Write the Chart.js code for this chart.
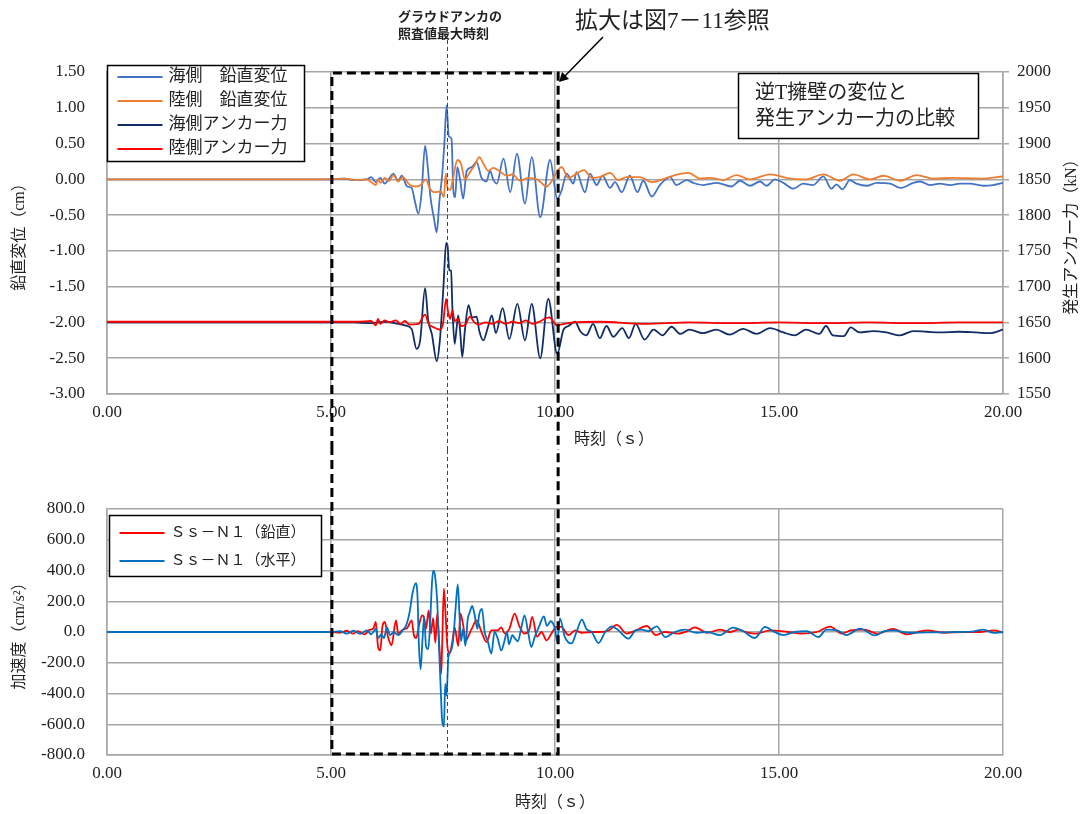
<!DOCTYPE html>
<html lang="ja">
<head>
<meta charset="utf-8">
<title>逆T擁壁の変位と発生アンカー力の比較</title>
<script src="https://cdn.jsdelivr.net/npm/chart.js@4.4.1/dist/chart.umd.min.js"></script>
<style>
html, body { margin: 0; padding: 0; background: #fff; }
#wrap { position: relative; width: 1086px; height: 814px; }
#topChart { position: absolute; left: 0; top: 0; }
#bottomChart { position: absolute; left: 0; top: 450px; }
</style>
</head>
<body>
<div id="wrap">
<canvas id="topChart" width="1086" height="450"></canvas>
<canvas id="bottomChart" width="1086" height="364"></canvas>
</div>
<script>

// =========================
// DATA
// =========================

// 海側 鉛直変位 (cm)
const seaDispTime = [0, 5.0, 5.3, 5.5, 5.8, 5.9, 6.0, 6.1, 6.2, 6.3, 6.39, 6.5, 6.58, 6.7, 6.8, 6.87, 6.95, 7.02, 7.1, 7.17, 7.22, 7.3, 7.36, 7.42, 7.48, 7.53, 7.58, 7.63, 7.69, 7.73, 7.77, 7.82, 7.88, 7.95, 8.03, 8.14, 8.25, 8.36, 8.47, 8.55, 8.62, 8.7, 8.85, 9.0, 9.15, 9.33, 9.48, 9.67, 9.89, 10.05, 10.15, 10.26, 10.41, 10.48, 10.67, 10.78, 10.93, 11.06, 11.23, 11.34, 11.49, 11.67, 11.84, 11.97, 12.16, 12.34, 12.57, 12.71, 12.94, 13.09, 13.31, 13.61, 13.94, 14.13, 14.35, 14.58, 14.72, 14.91, 15.1, 15.32, 15.54, 15.76, 15.99, 16.17, 16.28, 16.42, 16.58, 16.73, 16.96, 17.18, 17.48, 17.71, 18.0, 18.15, 18.37, 18.59, 18.82, 19.04, 19.26, 19.56, 19.78, 20.0];
const seaDisp = [0, 0, 0.01, -0.01, 0.0, 0.03, -0.04, 0.02, -0.06, 0.01, 0.08, -0.02, 0.05, -0.1, -0.12, -0.3, -0.48, -0.2, 0.47, 0.1, -0.25, -0.55, -0.74, -0.3, 0.05, 0.5, 1.03, 0.6, 0.57, -0.15, -0.25, 0.17, 0.0, -0.27, 0.12, 0.17, 0.24, 0.02, -0.03, 0.12, 0.0, -0.06, 0.29, -0.18, 0.36, -0.34, 0.31, -0.53, 0.27, -0.27, -0.15, 0.08, -0.06, 0.1, -0.18, 0.08, -0.08, 0.05, -0.12, -0.04, -0.18, 0.05, -0.18, -0.02, -0.24, -0.08, 0.03, -0.08, -0.01, -0.05, -0.08, -0.05, -0.1, -0.02, -0.09, -0.03, -0.09, 0.0, -0.05, -0.13, -0.06, -0.08, 0.04, -0.13, -0.07, -0.14, -0.01, -0.06, -0.09, -0.05, -0.06, -0.12, -0.05, -0.03, -0.08, -0.06, -0.08, -0.06, -0.06, -0.09, -0.08, -0.05];

// 陸側 鉛直変位 (cm)
const landDispTime = [0, 5.0, 5.3, 5.6, 5.8, 5.9, 6.0, 6.05, 6.1, 6.2, 6.3, 6.39, 6.5, 6.6, 6.76, 6.9, 7.0, 7.12, 7.2, 7.32, 7.45, 7.52, 7.56, 7.6, 7.66, 7.72, 7.82, 7.9, 7.99, 8.1, 8.21, 8.31, 8.4, 8.51, 8.62, 8.75, 8.92, 9.05, 9.22, 9.4, 9.6, 9.81, 9.95, 10.08, 10.15, 10.3, 10.48, 10.65, 10.82, 11.0, 11.23, 11.41, 11.6, 11.9, 12.16, 12.4, 12.68, 12.98, 13.24, 13.46, 13.76, 14.05, 14.35, 14.8, 15.25, 15.6, 15.99, 16.36, 16.66, 17.03, 17.33, 17.71, 18.07, 18.44, 18.9, 19.5, 20.0];
const landDisp = [0, 0, 0.01, -0.01, 0, -0.04, -0.08, 0.0, -0.05, 0.02, -0.02, 0.06, -0.03, 0.03, -0.08, -0.1, -0.08, 0.0, -0.12, -0.18, -0.17, -0.25, 0.08, -0.12, -0.15, 0.0, 0.27, 0.22, 0.0, 0.1, 0.2, 0.31, 0.22, 0.12, 0.16, 0.12, 0.05, 0.07, -0.02, 0.02, 0.0, -0.1, 0.0, 0.14, 0.17, 0.02, 0.08, 0.13, 0.02, 0.03, 0.09, -0.01, 0.03, 0.03, -0.04, 0.0, 0.06, 0.09, 0.01, 0.02, -0.01, 0.06, 0.0, 0.07, 0.01, 0.0, 0.07, -0.02, 0.07, 0.0, 0.05, -0.02, 0.06, 0.01, 0.02, 0.01, 0.04];

// 海側アンカー力 (kN)
const seaForceTime = [0, 5.0, 5.5, 5.9, 6.2, 6.5, 6.65, 6.8, 6.91, 6.99, 7.1, 7.17, 7.25, 7.36, 7.43, 7.51, 7.57, 7.6, 7.64, 7.68, 7.71, 7.76, 7.8, 7.84, 7.88, 7.93, 7.99, 8.07, 8.15, 8.25, 8.31, 8.4, 8.51, 8.59, 8.68, 8.83, 8.98, 9.16, 9.33, 9.48, 9.67, 9.85, 10.05, 10.19, 10.3, 10.45, 10.56, 10.7, 10.85, 11.0, 11.15, 11.3, 11.5, 11.65, 11.8, 12.0, 12.2, 12.4, 12.6, 12.8, 13.0, 13.3, 13.6, 13.9, 14.2, 14.5, 14.8, 15.1, 15.35, 15.6, 15.9, 16.05, 16.2, 16.45, 16.6, 16.8, 17.1, 17.4, 17.7, 18.0, 18.3, 18.6, 19.0, 19.4, 19.7, 20.0];
const seaForce = [1650, 1650, 1650, 1649, 1651, 1648, 1646, 1641, 1613, 1625, 1698, 1653, 1634, 1596, 1625, 1700, 1761, 1758, 1723, 1722, 1670, 1620, 1640, 1660, 1640, 1602, 1640, 1674, 1657, 1658, 1638, 1625, 1645, 1660, 1635, 1670, 1627, 1676, 1625, 1676, 1600, 1683, 1606, 1640, 1645, 1651, 1638, 1632, 1648, 1628, 1645, 1630, 1642, 1628, 1648, 1626, 1640, 1632, 1644, 1634, 1640, 1635, 1640, 1633, 1641, 1634, 1642, 1636, 1632, 1640, 1634, 1645, 1632, 1631, 1643, 1636, 1638, 1636, 1632, 1638, 1637, 1636, 1637, 1636, 1635, 1640];

// 陸側アンカー力 (kN)
const landForceTime = [0, 5.0, 5.6, 5.9, 6.0, 6.05, 6.1, 6.2, 6.3, 6.45, 6.55, 6.65, 6.75, 6.95, 7.1, 7.18, 7.3, 7.43, 7.5, 7.57, 7.61, 7.66, 7.71, 7.76, 7.84, 7.9, 8.0, 8.1, 8.2, 8.3, 8.45, 8.6, 8.75, 8.9, 9.05, 9.2, 9.35, 9.5, 9.65, 9.87, 10.05, 10.2, 10.4, 11.0, 12.0, 13.0, 14.0, 15.0, 16.0, 17.0, 18.0, 19.0, 20.0];
const landForce = [1651, 1651, 1651, 1652, 1646, 1655, 1648, 1653, 1650, 1653, 1648, 1652, 1647, 1648, 1661, 1648, 1643, 1640, 1648, 1683, 1666, 1655, 1667, 1652, 1655, 1645, 1647, 1658, 1650, 1647, 1650, 1648, 1652, 1648, 1651, 1649, 1653, 1648, 1651, 1657, 1646, 1648, 1650, 1651, 1648, 1650, 1649, 1650, 1649, 1650, 1649, 1650, 1650];

// Ss-N1 鉛直 (cm/s2)
const accVTime = [0, 5.0, 5.2, 5.35, 5.5, 5.6, 5.75, 5.85, 5.95, 6.0, 6.05, 6.1, 6.15, 6.2, 6.27, 6.35, 6.45, 6.5, 6.6, 6.7, 6.8, 6.85, 6.9, 6.97, 7.03, 7.08, 7.12, 7.18, 7.23, 7.28, 7.33, 7.37, 7.42, 7.46, 7.48, 7.52, 7.56, 7.6, 7.65, 7.71, 7.76, 7.84, 7.89, 7.95, 8.01, 8.06, 8.14, 8.25, 8.36, 8.47, 8.58, 8.72, 8.8, 8.88, 8.98, 9.1, 9.2, 9.31, 9.42, 9.49, 9.6, 9.7, 9.81, 9.92, 10.03, 10.14, 10.3, 10.45, 10.6, 10.83, 11.0, 11.2, 11.38, 11.6, 11.8, 12.05, 12.25, 12.45, 12.75, 12.95, 13.12, 13.4, 13.68, 13.9, 14.1, 14.3, 14.5, 14.8, 15.2, 15.5, 15.84, 16.14, 16.4, 16.6, 16.9, 17.2, 17.55, 17.85, 18.3, 18.7, 19.1, 19.5, 19.8, 20.0];
const accV = [0, 0, -5, 8, -10, 5, -15, 12, 25, 65, -98, -120, 40, 65, -30, -87, 76, -10, 15, 25, 76, -20, -40, 50, 108, 90, 20, 141, -10, 90, -70, 120, -100, -270, -100, 282, 100, -100, -140, -60, 30, -90, 120, 45, -60, -30, 20, 76, 0, -65, 10, 10, 30, -10, 20, 120, 40, -10, 10, 98, -30, 0, -54, -10, 33, 33, -20, 10, -5, 0, 0, 10, 46, -10, 10, 39, -20, 0, -10, 5, 30, -5, 15, 0, 15, -4, -10, 10, 0, -10, 0, 35, -10, 10, 15, -10, 20, -15, 10, -5, 0, 0, 10, -4];

// Ss-N1 水平 (cm/s2)
const accHTime = [0, 5.0, 5.2, 5.35, 5.5, 5.65, 5.8, 5.9, 6.0, 6.05, 6.12, 6.18, 6.25, 6.32, 6.4, 6.5, 6.6, 6.68, 6.75, 6.82, 6.89, 6.93, 6.96, 7.0, 7.04, 7.08, 7.12, 7.17, 7.21, 7.25, 7.28, 7.32, 7.37, 7.41, 7.45, 7.48, 7.52, 7.55, 7.58, 7.62, 7.68, 7.73, 7.78, 7.83, 7.87, 7.9, 7.95, 8.0, 8.05, 8.1, 8.15, 8.2, 8.27, 8.3, 8.37, 8.43, 8.5, 8.58, 8.65, 8.72, 8.8, 8.87, 8.93, 8.97, 9.05, 9.1, 9.17, 9.25, 9.32, 9.4, 9.47, 9.55, 9.65, 9.75, 9.82, 9.9, 10.0, 10.05, 10.11, 10.22, 10.37, 10.48, 10.6, 10.7, 10.82, 10.97, 11.12, 11.27, 11.42, 11.64, 11.8, 11.94, 12.08, 12.27, 12.46, 12.68, 12.9, 13.16, 13.4, 13.68, 13.98, 14.2, 14.46, 14.69, 14.9, 15.1, 15.35, 15.62, 15.88, 16.06, 16.3, 16.51, 16.81, 17.14, 17.35, 17.55, 17.9, 18.3, 18.7, 19.0, 19.3, 19.56, 19.8, 20.0];
const accH = [0, 0, 5, -10, 8, -12, 10, -15, 20, -40, -15, -40, 30, -20, 0, -20, 10, 45, 122, 252, 317, 240, -70, -243, -60, 98, -90, -111, 40, 300, 399, 370, 200, -90, -377, -572, -616, -337, -413, -163, -120, -40, 150, 310, 100, -60, 20, -90, 80, 130, 170, 120, 20, 100, 150, 0, -60, -140, 0, -40, -120, -60, 0, -80, -20, -40, -60, 30, 108, 0, -98, -30, 40, 102, 40, 70, 20, -65, 89, -33, -74, 0, 80, 20, 0, -72, 0, 37, 10, -43, 10, 15, 5, 37, -33, 0, 15, -5, 0, -20, 28, 5, -39, 33, 0, -20, 0, 5, -33, 15, 10, -20, 22, -22, 5, 10, -5, -3, -2, 0, 2, 15, -6, 0];

// zoom frame and peak time (s)
const frameStart = 5.02;
const frameEnd = 10.07;
const peakTime = 7.59;

// =========================
// STYLE
// =========================

const SERIF = "'Liberation Serif', 'Noto Sans CJK JP', serif";
const GOTHIC = "'Noto Sans CJK JP', sans-serif";
const GRID = "#a6a6a6";
const TEXT = "#222";
const TICK_SIZE = 17;

function pts(ts, vs) {
    return ts.map((t, i) => ({ x: t, y: vs[i] }));
}

function line(label, ts, vs, color, axis, order) {
    return {
        label: label,
        data: pts(ts, vs),
        borderColor: color,
        backgroundColor: color,
        borderWidth: 1.8,
        pointRadius: 0,
        cubicInterpolationMode: "monotone",
        yAxisID: axis,
        order: order
    };
}

function drawLegend(chart, box, rowH, first, fontSize) {
    const ctx = chart.ctx;
    ctx.save();
    ctx.setLineDash([]);
    ctx.fillStyle = "#fff";
    ctx.fillRect(box.x, box.y, box.w, box.h);
    ctx.strokeStyle = "#000";
    ctx.lineWidth = 1.5;
    ctx.strokeRect(box.x, box.y, box.w, box.h);
    ctx.font = fontSize + "px " + SERIF;
    ctx.textBaseline = "middle";
    chart.data.datasets.forEach((ds, i) => {
        const y = box.y + first + rowH * i;
        ctx.strokeStyle = ds.borderColor;
        ctx.lineWidth = 2;
        ctx.beginPath();
        ctx.moveTo(box.x + 10, y);
        ctx.lineTo(box.x + 55, y);
        ctx.stroke();
        ctx.fillStyle = TEXT;
        ctx.fillText(ds.label, box.x + 61, y);
    });
    ctx.restore();
}

function xAxis(height, showTitle) {
    return {
        type: "linear",
        min: 0,
        max: 20,
        grid: { color: GRID, lineWidth: 1.5, drawTicks: false },
        border: { color: GRID, width: 1.5 },
        ticks: {
            stepSize: 5,
            padding: 8,
            color: TEXT,
            font: { family: SERIF, size: TICK_SIZE },
            maxRotation: 0,
            callback: v => v.toFixed(2)
        },
        title: {
            display: showTitle,
            text: "時刻（ｓ）",
            color: TEXT,
            font: { family: SERIF, size: 16 },
            padding: { top: 2, bottom: 2 }
        },
        afterFit: s => { s.height = height; }
    };
}

// =========================
// TOP CHART
// =========================

const topOverlay = {
    id: "topOverlay",
    afterDraw(chart) {
        const ctx = chart.ctx;
        const x = chart.scales.x;
        const area = chart.chartArea;
        const xl = x.getPixelForValue(frameStart);
        const xr = x.getPixelForValue(frameEnd);
        const xp = Math.round(x.getPixelForValue(peakTime)) + 0.5;

        ctx.save();

        // peak time line
        ctx.strokeStyle = "#444";
        ctx.lineWidth = 1;
        ctx.setLineDash([4, 3]);
        ctx.beginPath();
        ctx.moveTo(xp, 40);
        ctx.lineTo(xp, chart.height);
        ctx.stroke();

        // zoom frame
        ctx.strokeStyle = "#000";
        ctx.lineWidth = 3;
        ctx.setLineDash([9, 5]);
        ctx.beginPath();
        ctx.moveTo(xl, chart.height);
        ctx.lineTo(xl, area.top + 1);
        ctx.lineTo(xr, area.top + 1);
        ctx.lineTo(xr, chart.height);
        ctx.stroke();

        // arrow
        ctx.setLineDash([]);
        ctx.lineWidth = 1.5;
        ctx.beginPath();
        ctx.moveTo(603, 37);
        ctx.lineTo(562, 79);
        ctx.stroke();
        ctx.fillStyle = "#000";
        ctx.beginPath();
        ctx.moveTo(559, 82);
        ctx.lineTo(562, 72);
        ctx.lineTo(569, 79);
        ctx.closePath();
        ctx.fill();

        // annotations
        ctx.fillStyle = TEXT;
        ctx.textBaseline = "middle";
        ctx.font = "bold 13px " + GOTHIC;
        ctx.fillText("グラウドアンカの", 398, 16);
        ctx.fillText("照査値最大時刻", 398, 33);
        ctx.font = "23px " + SERIF;
        ctx.fillText("拡大は図7－11参照", 575, 22);

        // x axis title (sits right of the frame)
        ctx.font = "16px " + SERIF;
        ctx.textAlign = "center";
        ctx.fillText("時刻（ｓ）", 614, 440);
        ctx.textAlign = "left";

        // title box
        ctx.fillStyle = "#fff";
        ctx.fillRect(738.5, 73.5, 240, 65);
        ctx.strokeStyle = "#000";
        ctx.lineWidth = 1.5;
        ctx.strokeRect(738.5, 73.5, 240, 65);
        ctx.fillStyle = TEXT;
        ctx.font = "20px " + SERIF;
        ctx.fillText("逆T擁壁の変位と", 755, 94);
        ctx.fillText("発生アンカー力の比較", 755, 120);

        // right axis title (reads bottom to top)
        ctx.save();
        ctx.translate(1072, (area.top + area.bottom) / 2);
        ctx.rotate(-Math.PI / 2);
        ctx.textAlign = "center";
        ctx.font = "16px " + SERIF;
        ctx.fillText("発生アンカー力（kN）", 0, 0);
        ctx.restore();

        ctx.restore();

        drawLegend(chart, { x: 107.5, y: 65.5, w: 197, h: 96 }, 24, 11.5, 17);
    }
};

new Chart(document.getElementById("topChart"), {
    type: "line",
    data: {
        datasets: [
            line("海側　鉛直変位", seaDispTime, seaDisp, "#4472c4", "y", 3),
            line("陸側　鉛直変位", landDispTime, landDisp, "#ed7d31", "y", 2),
            line("海側アンカー力", seaForceTime, seaForce, "#112d66", "y2", 1),
            line("陸側アンカー力", landForceTime, landForce, "#ff0000", "y2", 0)
        ]
    },
    options: {
        responsive: false,
        devicePixelRatio: 1,
        animation: false,
        layout: { padding: { top: 72, left: 0, right: 0, bottom: 0 } },
        plugins: { legend: { display: false }, tooltip: { enabled: false } },
        scales: {
            x: xAxis(56, false),
            y: {
                position: "left",
                min: -3,
                max: 1.5,
                grid: { color: GRID, lineWidth: 1.5, drawTicks: false },
                border: { color: GRID, width: 1.5 },
                ticks: {
                    stepSize: 0.5,
                    padding: 22,
                    color: TEXT,
                    font: { family: SERIF, size: TICK_SIZE },
                    callback: v => v.toFixed(2)
                },
                title: {
                    display: true,
                    text: "鉛直変位（cm）",
                    color: TEXT,
                    font: { family: SERIF, size: 16 },
                    padding: { top: 10, bottom: 0 }
                },
                afterFit: s => { s.width = 107; }
            },
            y2: {
                position: "right",
                min: 1550,
                max: 2000,
                grid: { drawOnChartArea: false, color: GRID, lineWidth: 1.5, tickLength: 6 },
                border: { color: GRID, width: 1.5 },
                ticks: {
                    stepSize: 50,
                    padding: 8,
                    color: TEXT,
                    font: { family: SERIF, size: TICK_SIZE },
                    callback: v => String(v)
                },
                afterFit: s => { s.width = 83; }
            }
        }
    },
    plugins: [topOverlay]
});

// =========================
// BOTTOM CHART
// =========================

const bottomOverlay = {
    id: "bottomOverlay",
    afterDraw(chart) {
        const ctx = chart.ctx;
        const x = chart.scales.x;
        const area = chart.chartArea;
        const xl = x.getPixelForValue(frameStart);
        const xr = x.getPixelForValue(frameEnd);
        const xp = Math.round(x.getPixelForValue(peakTime)) + 0.5;

        ctx.save();

        ctx.strokeStyle = "#444";
        ctx.lineWidth = 1;
        ctx.setLineDash([4, 3]);
        ctx.beginPath();
        ctx.moveTo(xp, 0);
        ctx.lineTo(xp, area.bottom - 1);
        ctx.stroke();

        ctx.strokeStyle = "#000";
        ctx.lineWidth = 3;
        ctx.setLineDash([9, 5]);
        ctx.lineDashOffset = 4;
        ctx.beginPath();
        ctx.moveTo(xl, 0);
        ctx.lineTo(xl, area.bottom - 1);
        ctx.lineTo(xr, area.bottom - 1);
        ctx.lineTo(xr, 0);
        ctx.stroke();

        ctx.restore();

        drawLegend(chart, { x: 109.5, y: 65.5, w: 212, h: 61 }, 28, 17.5, 15);
    }
};

new Chart(document.getElementById("bottomChart"), {
    type: "line",
    data: {
        datasets: [
            line("Ｓｓ－Ｎ１（鉛直）", accVTime, accV, "#ff0000", "y", 1),
            line("Ｓｓ－Ｎ１（水平）", accHTime, accH, "#0070c0", "y", 0)
        ]
    },
    options: {
        responsive: false,
        devicePixelRatio: 1,
        animation: false,
        layout: { padding: { top: 59, left: 0, right: 83, bottom: 0 } },
        plugins: { legend: { display: false }, tooltip: { enabled: false } },
        scales: {
            x: xAxis(59, true),
            y: {
                position: "left",
                min: -800,
                max: 800,
                grid: { color: GRID, lineWidth: 1.5, drawTicks: false },
                border: { color: GRID, width: 1.5 },
                ticks: {
                    stepSize: 200,
                    padding: 22,
                    color: TEXT,
                    font: { family: SERIF, size: TICK_SIZE },
                    callback: v => v.toFixed(1)
                },
                title: {
                    display: true,
                    text: "加速度（cm/s²）",
                    color: TEXT,
                    font: { family: SERIF, size: 16 },
                    padding: { top: 10, bottom: 0 }
                },
                afterFit: s => { s.width = 107; }
            }
        }
    },
    plugins: [bottomOverlay]
});

</script>
</body>
</html>
